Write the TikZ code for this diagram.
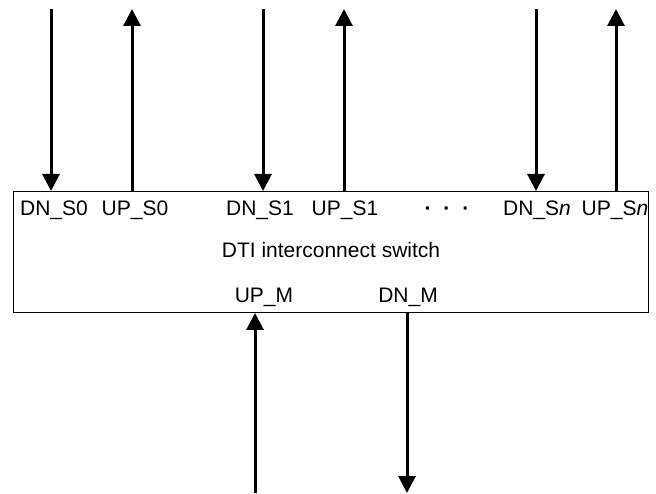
\documentclass[tikz,border=0pt]{standalone}
\usepackage{fontspec}
\setmainfont{Liberation Sans}
\usetikzlibrary{arrows.meta}
\begin{document}
\begin{tikzpicture}[x=1pt,y=-1pt,
  sig/.style={line width=3pt, -{Triangle[width=17pt,length=17pt]}},
  lbl/.style={font=\fontsize{21}{24}\selectfont, inner sep=0pt, anchor=base},
  boxst/.style={draw, line width=1pt, minimum width=635pt, minimum height=121pt, inner sep=0pt, anchor=north west}]
\useasboundingbox (0,0) rectangle (656,494);
\node[boxst] (sw) at (13,191) {};
% labels
\node[lbl] (ldn0) at (54,216) {DN\_S0};
\node[lbl] (lup0) at (135,216) {UP\_S0};
\node[lbl] (ldn1) at (260,216) {DN\_S1};
\node[lbl] (lup1) at (345,216) {UP\_S1};
\node[lbl] (ldots) at (447,216) {\textbf{·}\hspace{12pt}\textbf{·}\hspace{12pt}\textbf{·}};
\node[lbl] (ldnn) at (537,216) {DN\_S\textit{n}};
\node[lbl] (lupn) at (615,216) {UP\_S\textit{n}};
\node[lbl] (ltitle) at (331,258) {DTI interconnect switch};
\node[lbl] (lupm) at (264,303) {UP\_M};
\node[lbl] (ldnm) at (408,303) {DN\_M};
% free ends
\coordinate (tdn0) at (51,9);
\coordinate (tup0) at (132,9);
\coordinate (tdn1) at (263,9);
\coordinate (tup1) at (344,9);
\coordinate (tdnn) at (536,9);
\coordinate (tupn) at (616,9);
\coordinate (bupm) at (255,493);
\coordinate (bdnm) at (407,493);
% connectors
\draw[sig] (tdn0) -- (tdn0 |- sw.north);
\draw[sig] (tup0 |- sw.north) -- (tup0);
\draw[sig] (tdn1) -- (tdn1 |- sw.north);
\draw[sig] (tup1 |- sw.north) -- (tup1);
\draw[sig] (tdnn) -- (tdnn |- sw.north);
\draw[sig] (tupn |- sw.north) -- (tupn);
\draw[sig] (bupm) -- (bupm |- sw.south);
\draw[sig] (bdnm |- sw.south) -- (bdnm);
\end{tikzpicture}
\end{document}
